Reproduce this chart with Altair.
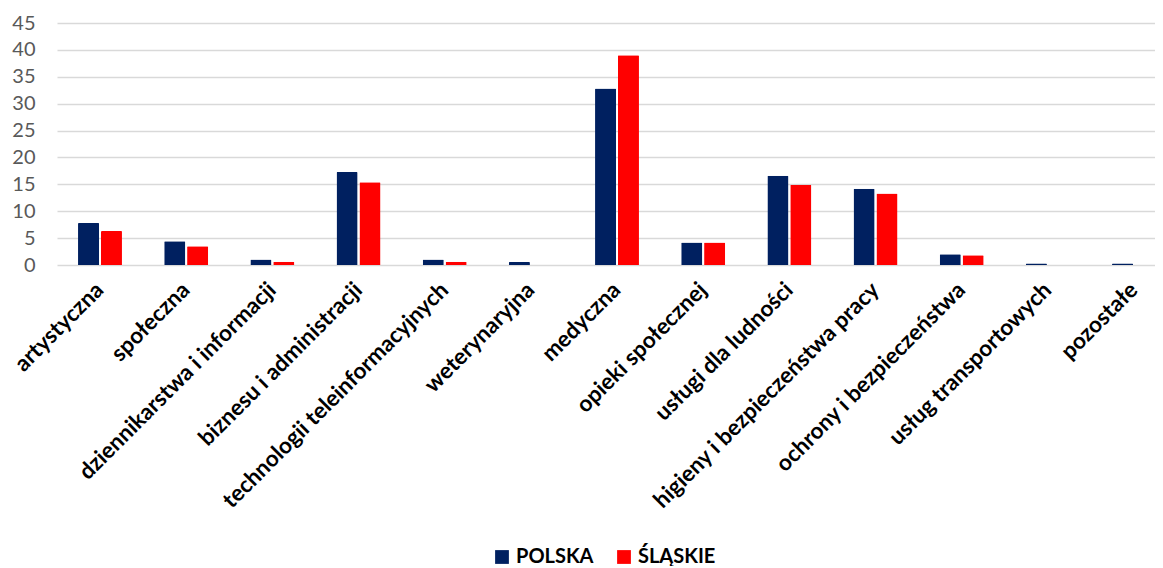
import altair as alt
import pandas as pd

categories = [
    "artystyczna", "społeczna", "dziennikarstwa i informacji",
    "biznesu i administracji", "technologii teleinformacyjnych",
    "weterynaryjna", "medyczna", "opieki społecznej", "usługi dla ludności",
    "higieny i bezpieczeństwa pracy", "ochrony i bezpieczeństwa",
    "usług transportowych", "pozostałe",
]
polska = [7.8, 4.4, 1.0, 17.3, 1.0, 0.55, 32.8, 4.2, 16.6, 14.2, 2.0, 0.3, 0.3]
slaskie = [6.3, 3.5, 0.6, 15.4, 0.6, 0.0, 39.0, 4.2, 14.9, 13.3, 1.8, 0.0, 0.0]
series = ["POLSKA", "ŚLĄSKIE"]
colors = ["#002060", "#FF0000"]

rows = []
for c, p, s in zip(categories, polska, slaskie):
    rows.append({"kat": c, "seria": series[0], "val": p})
    rows.append({"kat": c, "seria": series[1], "val": s})
df = pd.DataFrame(rows)

chart = alt.Chart(df).mark_bar(cornerRadiusTopLeft=1, cornerRadiusTopRight=1).encode(
    x=alt.X("kat:N", sort=categories, title=None,
            scale=alt.Scale(range=[0, 1120], paddingInner=0.49, paddingOuter=0.244),
            axis=alt.Axis(labelAngle=-45, labelAlign="right", labelBaseline="middle",
                          labelFont="Lato", labelFontWeight="bold", labelFontSize=22.5,
                          labelColor="#000000", labelPadding=21, ticks=False,
                          domain=False, grid=False, labelLimit=400)),
    xOffset=alt.XOffset("seria:N", sort=series,
                        scale=alt.Scale(paddingInner=0.08, paddingOuter=0)),
    y=alt.Y("val:Q", title=None,
            scale=alt.Scale(domain=[0, 45], nice=False),
            axis=alt.Axis(values=list(range(0, 50, 5)), labelFont="Lato",
                          labelFontSize=20, labelColor="#595959", labelPadding=22,
                          ticks=False, domain=False, gridColor="#d9d9d9",
                          gridWidth=1.3)),
    color=alt.Color("seria:N", sort=series,
                    scale=alt.Scale(domain=series, range=colors),
                    legend=alt.Legend(title=None, orient="none", direction="horizontal",
                                      legendX=435, legendY=524, symbolType="square",
                                      symbolSize=190, symbolStrokeWidth=0,
                                      labelFont="Lato", labelFontWeight="bold",
                                      labelFontSize=20, labelColor="#000000",
                                      columnPadding=20, symbolOffset=0)),
).properties(
    width=1098, height=242,
    autosize=alt.AutoSizeParams(type="none"),
    padding={"left": 49, "top": 15, "right": 0, "bottom": 301},
).configure_view(stroke=None)

chart.save("out.html", embed_options={"renderer": "svg", "actions": False})
